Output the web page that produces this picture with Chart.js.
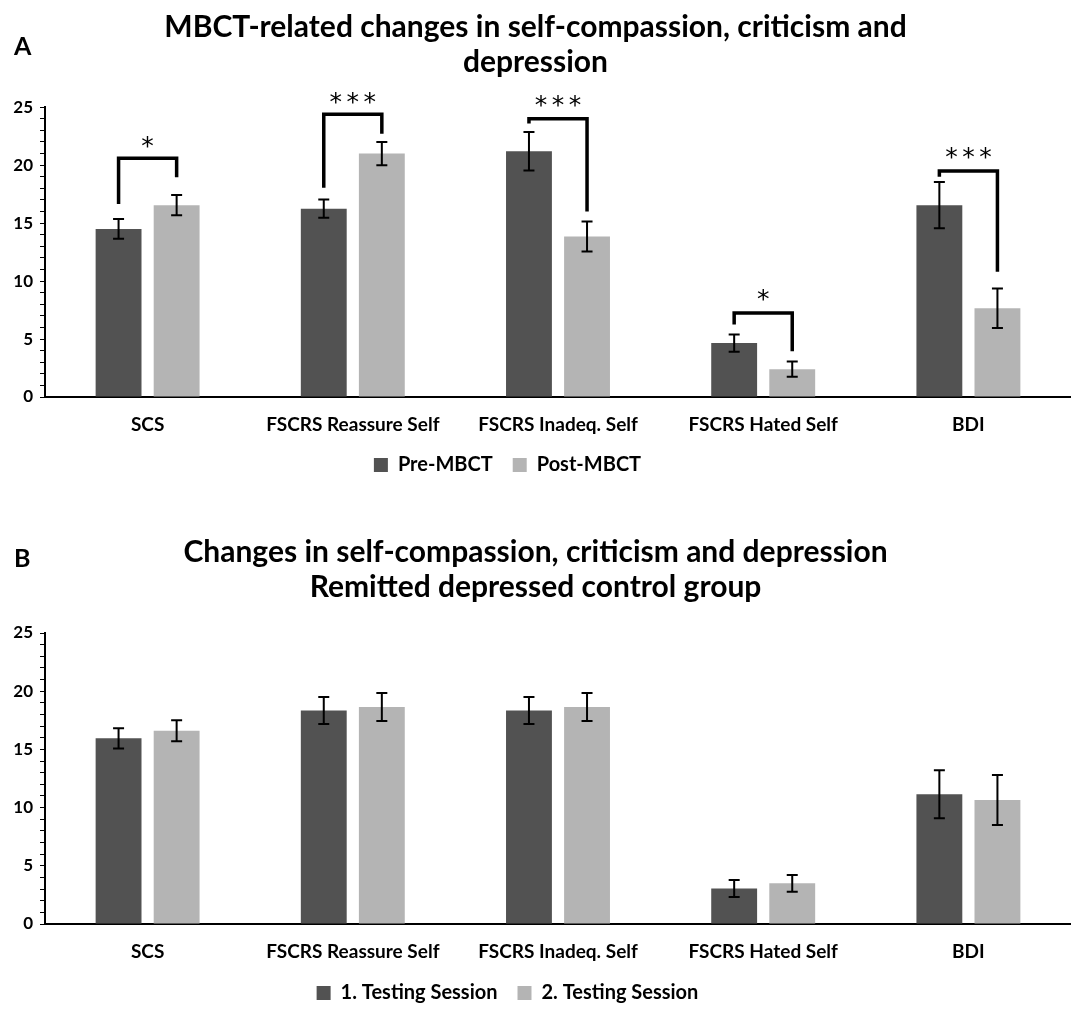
<!DOCTYPE html>
<html>
<head>
<meta charset="utf-8">
<script src="https://cdn.jsdelivr.net/npm/chart.js@4.4.1/dist/chart.umd.min.js"></script>
<style>
  html, body { margin: 0; padding: 0; background: #fff; overflow: hidden; }
  #wrap { position: relative; width: 1071px; height: 1017px; overflow: hidden; }
  .panel { position: absolute; left: 0; width: 1071px; }
  .tag { position: absolute; left: 14px; font: bold 25px Lato, "Open Sans", sans-serif; color: #000; line-height: 1; }
</style>
</head>
<body>
<div id="wrap">
  <div class="panel" style="top:0;height:500px"><canvas id="chartA"></canvas></div>
  <div class="panel" style="top:500px;height:540px"><canvas id="chartB"></canvas></div>
  <div class="tag" style="top:33px">A</div>
  <div class="tag" style="top:545px">B</div>
</div>
<script>
// categories and tick labels
const categories = ["SCS", "FSCRS Reassure Self", "FSCRS Inadeq. Self", "FSCRS Hated Self", "BDI"];
const yTicks = [0, 5, 10, 15, 20, 25];

// panel A: MBCT group
const preMBCT = [14.5, 16.25, 21.2, 4.65, 16.55];
const postMBCT = [16.55, 21.0, 13.85, 2.4, 7.65];
const preMBCTErr = [0.85, 0.78, 1.65, 0.75, 2.0];
const postMBCTErr = [0.88, 1.0, 1.3, 0.66, 1.7];
// significance brackets: [category, left foot, top, right foot, label level, stars]
const bracketsA = [
  [0, 16.65, 20.6, 18.95, 22.0, "*"],
  [1, 18.05, 24.4, 22.7, 25.85, "***"],
  [2, 23.6, 24.0, 16.0, 25.55, "***"],
  [3, 6.25, 7.25, 3.95, 8.8, "*"],
  [4, 19.0, 19.5, 10.8, 21.1, "***"]
];

// panel B: remitted depressed control group
const session1 = [15.95, 18.35, 18.35, 3.05, 11.15];
const session2 = [16.6, 18.65, 18.65, 3.5, 10.65];
const session1Err = [0.87, 1.16, 1.16, 0.73, 2.06];
const session2Err = [0.9, 1.2, 1.2, 0.72, 2.14];

const FONT = "Lato, 'Open Sans', sans-serif";
const DARK = "#525252";
const LIGHT = "#b4b4b4";

const errorBarPlugin = {
  id: "errorBars",
  afterDatasetsDraw(chart) {
    const ctx = chart.ctx;
    const y = chart.scales.y;
    const errs = chart.options.plugins.errorBars.errors;
    ctx.save();
    ctx.strokeStyle = "#000";
    ctx.lineWidth = 2;
    chart.data.datasets.forEach((ds, di) => {
      chart.getDatasetMeta(di).data.forEach((bar, i) => {
        const v = ds.data[i], e = errs[di][i];
        const top = y.getPixelForValue(v + e), bot = y.getPixelForValue(v - e);
        ctx.beginPath();
        ctx.moveTo(bar.x, top); ctx.lineTo(bar.x, bot);
        ctx.moveTo(bar.x - 5.5, top); ctx.lineTo(bar.x + 5.5, top);
        ctx.moveTo(bar.x - 5.5, bot); ctx.lineTo(bar.x + 5.5, bot);
        ctx.stroke();
      });
    });
    ctx.restore();
  }
};

const bracketPlugin = {
  id: "brackets",
  afterDatasetsDraw(chart) {
    const list = chart.options.plugins.brackets.items || [];
    const ctx = chart.ctx;
    const y = chart.scales.y;
    ctx.save();
    list.forEach(b => {
      const x1 = chart.getDatasetMeta(0).data[b[0]].x;
      const x2 = chart.getDatasetMeta(1).data[b[0]].x;
      ctx.strokeStyle = "#000";
      ctx.lineWidth = 3.5;
      ctx.beginPath();
      ctx.moveTo(x1, y.getPixelForValue(b[1]));
      ctx.lineTo(x1, y.getPixelForValue(b[2]));
      ctx.lineTo(x2, y.getPixelForValue(b[2]));
      ctx.lineTo(x2, y.getPixelForValue(b[3]));
      ctx.stroke();
      ctx.fillStyle = "#000";
      ctx.font = "25px 'DejaVu Sans', sans-serif";
      ctx.textAlign = "center";
      ctx.textBaseline = "middle";
      const n = b[5].length, cx = (x1 + x2) / 2, cy = y.getPixelForValue(b[4]) + 6;
      for (let k = 0; k < n; k++) {
        ctx.fillText("*", cx + (k - (n - 1) / 2) * 17, cy);
      }
    });
    ctx.restore();
  }
};

// nudge the legend a little left of centre, as in the original figure
const legendShift = {
  id: "legendShift",
  afterLayout(chart) {
    const dx = chart.options.plugins.legendShift.dx || 0;
    chart.legend.left += dx;
    chart.legend.right += dx;
  }
};

function makeChart(id, title, labels, preVals, postVals, preErr, postErr, brackets, lay) {
  return new Chart(document.getElementById(id), {
    type: "bar",
    data: {
      labels: categories,
      datasets: [
        { label: labels[0], data: preVals, backgroundColor: DARK,
          categoryPercentage: 0.566, barPercentage: 0.79 },
        { label: labels[1], data: postVals, backgroundColor: LIGHT,
          categoryPercentage: 0.566, barPercentage: 0.79 }
      ]
    },
    options: {
      responsive: true,
      maintainAspectRatio: false,
      animation: false,
      layout: { padding: { left: 0, right: 0, top: 0, bottom: lay.padBottom } },
      scales: {
        x: {
          grid: { display: false, drawTicks: false },
          border: { color: "#000", width: 2 },
          ticks: { color: "#000", font: { family: FONT, size: 19, weight: "bold" }, padding: 16 },
          afterFit: s => { s.height = lay.xHeight; }
        },
        y: {
          min: 0, max: 25,
          grid: { drawOnChartArea: false, color: "#000", tickLength: 5, lineWidth: 1 },
          border: { color: "#000", width: 2 },
          ticks: {
            stepSize: 1, autoSkip: false, color: "#000", padding: 7,
            font: { family: FONT, size: 17, weight: "bold" },
            callback: v => yTicks.includes(v) ? v : ""
          },
          afterFit: s => { s.width = 45; }
        }
      },
      plugins: {
        title: {
          display: true, text: title, color: "#000",
          font: { family: FONT, size: 30, weight: "bold", lineHeight: 1.17 },
          padding: { top: lay.titleTop, bottom: lay.titleBottom }
        },
        legend: {
          position: "bottom",
          labels: { color: "#000", boxWidth: 14, boxHeight: 14, padding: 20,
                    font: { family: FONT, size: 20, weight: "bold" } }
        },
        legendShift: { dx: lay.legendDx },
        tooltip: { enabled: false },
        errorBars: { errors: [preErr, postErr] },
        brackets: { items: brackets }
      }
    },
    plugins: [errorBarPlugin, bracketPlugin, legendShift]
  });
}

makeChart("chartA", ["MBCT-related changes in self-compassion, criticism and", "depression"],
  ["Pre-MBCT", "Post-MBCT"], preMBCT, postMBCT, preMBCTErr, postMBCTErr, bracketsA,
  { titleTop: 10, titleBottom: 27, xHeight: 38, padBottom: 15, legendDx: -28 });

makeChart("chartB", ["Changes in self-compassion, criticism and depression", "Remitted depressed control group"],
  ["1. Testing Session", "2. Testing Session"], session1, session2, session1Err, session2Err, [],
  { titleTop: 34.5, titleBottom: 28.3, xHeight: 39, padBottom: 27, legendDx: -28 });
</script>
</body>
</html>
